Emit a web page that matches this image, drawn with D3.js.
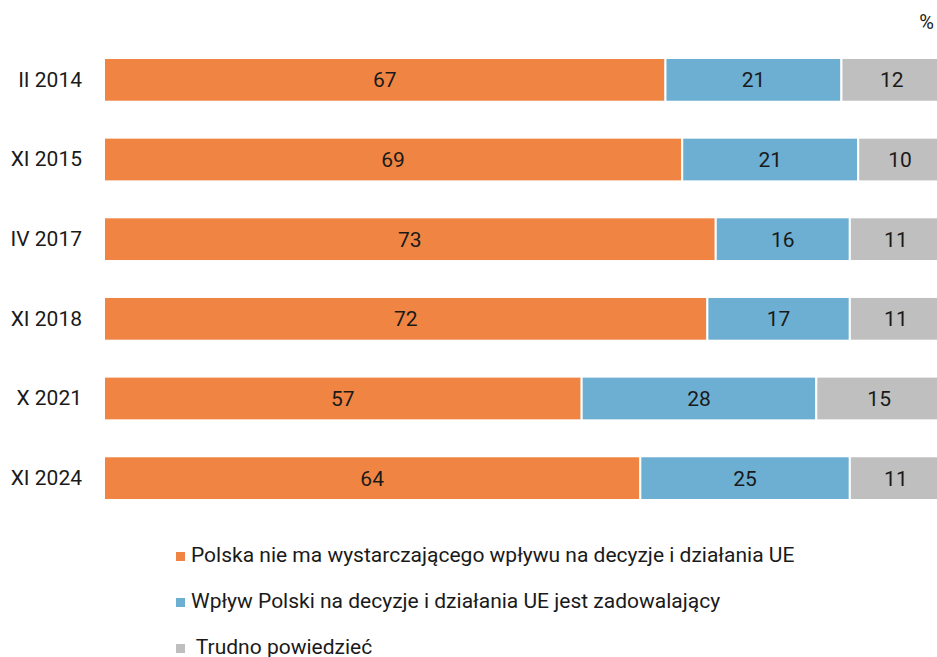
<!DOCTYPE html>
<html>
<head>
<meta charset="utf-8">
<script src="https://cdn.jsdelivr.net/npm/d3@7"></script>
<style>
  body { margin: 0; background: #fff; }
  svg { display: block; font-family: Roboto, "Noto Sans", sans-serif; }
</style>
</head>
<body>
<svg id="chart" width="937" height="657"></svg>
<script>
// data
const waves = ["II 2014", "XI 2015", "IV 2017", "XI 2018", "X 2021", "XI 2024"];
const notEnough = [67, 69, 73, 72, 57, 64];
const satisfying = [21, 21, 16, 17, 28, 25];
const hardToSay = [12, 10, 11, 11, 15, 11];
const seriesNames = [
  "Polska nie ma wystarczającego wpływu na decyzje i działania UE",
  "Wpływ Polski na decyzje i działania UE jest zadowalający",
  " Trudno powiedzieć"
];
const colors = ["#f08543", "#6cafd2", "#bfbfbf"];

const svg = d3.select("#chart");

const x = d3.scaleLinear().domain([0, 100]).range([104, 942]);
const y = d3.scaleBand().domain(waves).range([58, 500]).paddingInner(0.451).paddingOuter(0);

const rows = waves.map((w, i) => ({ wave: w, s0: notEnough[i], s1: satisfying[i], s2: hardToSay[i] }));
const stacked = d3.stack().keys(["s0", "s1", "s2"])(rows);

// bars
const layer = svg.append("g").selectAll("g").data(stacked).enter().append("g")
  .attr("fill", (d, i) => colors[i]);

layer.selectAll("rect").data(d => d).enter().append("rect")
  .attr("x", d => x(d[0]))
  .attr("y", d => y(d.data.wave))
  .attr("width", d => x(d[1]) - x(d[0]))
  .attr("height", y.bandwidth())
  .attr("stroke", "#fff")
  .attr("stroke-width", 2);

// value labels
layer.selectAll("text").data(d => d).enter().append("text")
  .attr("x", d => (x(d[0]) + x(d[1])) / 2)
  .attr("y", d => y(d.data.wave) + y.bandwidth() / 2)
  .attr("dy", "0.36em")
  .attr("text-anchor", "middle")
  .attr("fill", "#1a1a1a")
  .attr("font-size", 21)
  .text(d => d[1] - d[0]);

// category axis, no line or ticks
const yAxis = svg.append("g").attr("transform", "translate(82,0)")
  .call(d3.axisLeft(y).tickSize(0).tickPadding(0));
yAxis.select(".domain").remove();
yAxis.selectAll("text").attr("font-size", 21).attr("fill", "#1a1a1a")
  .attr("font-family", "Roboto, 'Noto Sans', sans-serif");

// unit
svg.append("text").attr("x", 934).attr("y", 29).attr("text-anchor", "end")
  .attr("font-size", 20).attr("fill", "#1a1a1a").text("%");

// legend
const legend = svg.append("g").selectAll("g").data(seriesNames).enter().append("g")
  .attr("transform", (d, i) => `translate(176,${552 + i * 46})`);
legend.append("rect").attr("width", 9).attr("height", 9).attr("fill", (d, i) => colors[i]);
legend.append("text").attr("x", 15).attr("y", 9.5)
  .attr("font-size", 21).attr("fill", "#1a1a1a")
  .attr("xml:space", "preserve").style("white-space", "pre")
  .text(d => d);
</script>
</body>
</html>
